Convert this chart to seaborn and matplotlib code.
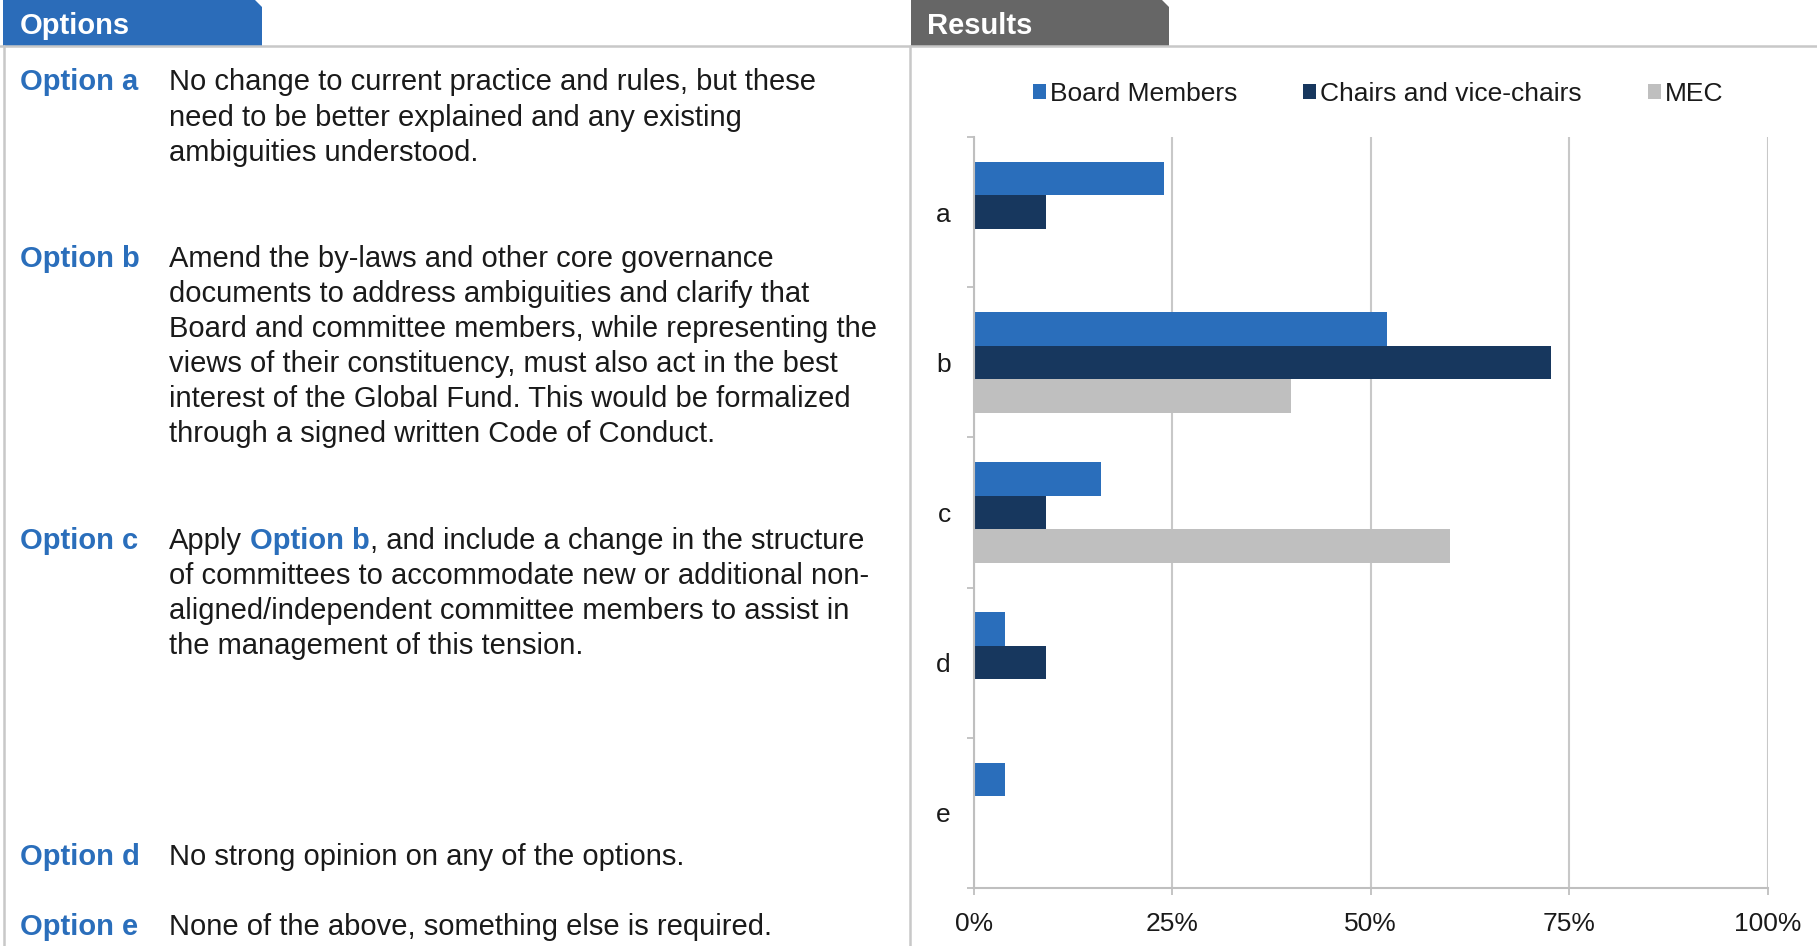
import matplotlib
matplotlib.use("Agg")
import matplotlib.pyplot as plt
from matplotlib.patches import Polygon, Patch
from matplotlib.ticker import FuncFormatter
import seaborn as sns
import pandas as pd

# Data (percent of respondents)
options = ["a", "b", "c", "d", "e"]
groups = ["Board Members", "Chairs and vice-chairs", "MEC"]
board = [24, 52, 16, 4, 4]
chairs = [9.1, 72.7, 9.1, 9.1, 0]
mec = [0, 40, 60, 0, 0]
x_ticks = [0, 25, 50, 75, 100]

option_labels = ["Option a", "Option b", "Option c", "Option d", "Option e"]
option_lines = [
    ["No change to current practice and rules, but these",
     "need to be better explained and any existing",
     "ambiguities understood."],
    ["Amend the by-laws and other core governance",
     "documents to address ambiguities and clarify that",
     "Board and committee members, while representing the",
     "views of their constituency, must also act in the best",
     "interest of the Global Fund. This would be formalized",
     "through a signed written Code of Conduct."],
    [None,
     "of committees to accommodate new or additional non-",
     "aligned/independent committee members to assist in",
     "the management of this tension."],
    ["No strong opinion on any of the options."],
    ["None of the above, something else is required."],
]
option_y = [82.5, 258.5, 540.5, 856.5, 926.5]

blue = "#2A6EBB"
navy = "#17375E"
grey = "#BFBFBF"
colors = [blue, navy, grey]
text_col = "#1A1A1A"
line_col = "#C8C8C8"

sns.set_theme(style="white")
plt.rcParams["font.family"] = ["Liberation Sans", "DejaVu Sans"]

W, H = 1817, 946
fig = plt.figure(figsize=(W / 100, H / 100), dpi=100)

# background layer in pixel coordinates: tabs, borders, option texts
bg = fig.add_axes([0, 0, 1, 1])
bg.set_xlim(0, W)
bg.set_ylim(H, 0)
bg.axis("off")

bg.plot([0, W], [46, 46], color=line_col, lw=1.8)
bg.plot([4, 4], [46, H], color=line_col, lw=1.8)
bg.plot([910, 910], [46, H], color=line_col, lw=1.8)

bg.add_patch(Polygon([(3, 46), (3, 0), (255, 0), (262, 7), (262, 46)],
                     closed=True, fc="#2B6CB9", ec="none"))
bg.add_patch(Polygon([(911, 46), (911, 0), (1162, 0), (1169, 7), (1169, 46)],
                     closed=True, fc="#666666", ec="none"))
bg.text(20, 26, "Options", color="white", fontsize=21, fontweight="bold", va="center")
bg.text(927, 26, "Results", color="white", fontsize=21, fontweight="bold", va="center")

fs = 21
step = 35.1
for label, lines, y0 in zip(option_labels, option_lines, option_y):
    bg.text(20, y0, label, color=blue, fontsize=fs, fontweight="bold", va="center")
    for i, line in enumerate(lines):
        y = y0 + i * step
        if line is None:
            t1 = bg.text(169, y, "Apply", color=text_col, fontsize=fs, va="center")
            t2 = bg.annotate("Option b", xy=(1, 0), xycoords=t1, xytext=(5.8, 0),
                             textcoords="offset points", va="bottom", ha="left",
                             color=blue, fontsize=fs, fontweight="bold")
            bg.annotate(", and include a change in the structure", xy=(1, 0), xycoords=t2,
                        va="bottom", ha="left", color=text_col, fontsize=fs)
        else:
            bg.text(169, y, line, color=text_col, fontsize=fs, va="center")

# chart
df = pd.DataFrame({
    "option": options * 3,
    "group": [g for g in groups for _ in options],
    "value": board + chairs + mec,
})

x0, x1, ytop, ybot = 973.6, 1768, 137, 888
ax = fig.add_axes([x0 / W, (H - ybot) / H, (x1 - x0) / W, (ybot - ytop) / H])
ax.set_facecolor("none")

sns.barplot(data=df, x="value", y="option", hue="group", hue_order=groups,
            palette=colors, saturation=1, width=0.67, orient="h", errorbar=None,
            linewidth=0, legend=False, ax=ax)

ax.set_xlim(0, 100)
ax.set_xticks(x_ticks)
ax.xaxis.set_major_formatter(FuncFormatter(lambda v, p: f"{v:.0f}%"))
ax.set_ylim(4.5, -0.5)
ax.set_yticks(range(len(options)))
ax.set_yticklabels(options)
ax.set_yticks([i - 0.5 for i in range(len(options) + 1)], minor=True)
ax.set_xlabel("")
ax.set_ylabel("")

ax.tick_params(axis="y", which="major", length=0, pad=16.5, labelsize=19, labelcolor=text_col)
ax.tick_params(axis="y", which="minor", left=True, length=5, color=grey, width=1.3)
ax.tick_params(axis="x", bottom=True, length=5, color=grey, width=1.3, pad=12,
               labelsize=19, labelcolor=text_col)

for side in ["top", "right"]:
    ax.spines[side].set_visible(False)
for side in ["left", "bottom"]:
    ax.spines[side].set_color(grey)
    ax.spines[side].set_linewidth(1.5)

ax.grid(axis="x", color=line_col, lw=1.5)
ax.grid(axis="y", visible=False)
ax.set_axisbelow(True)

handles = [Patch(facecolor=c, edgecolor="none") for c in colors]
fig.legend(handles, groups, loc="center", bbox_to_anchor=(0.7585, 0.9003), ncol=3,
           frameon=False, fontsize=19, handlelength=0.5, handleheight=0.5,
           handletextpad=0.15, columnspacing=2.5, labelcolor=text_col)

fig.savefig("out.png", dpi=100)
